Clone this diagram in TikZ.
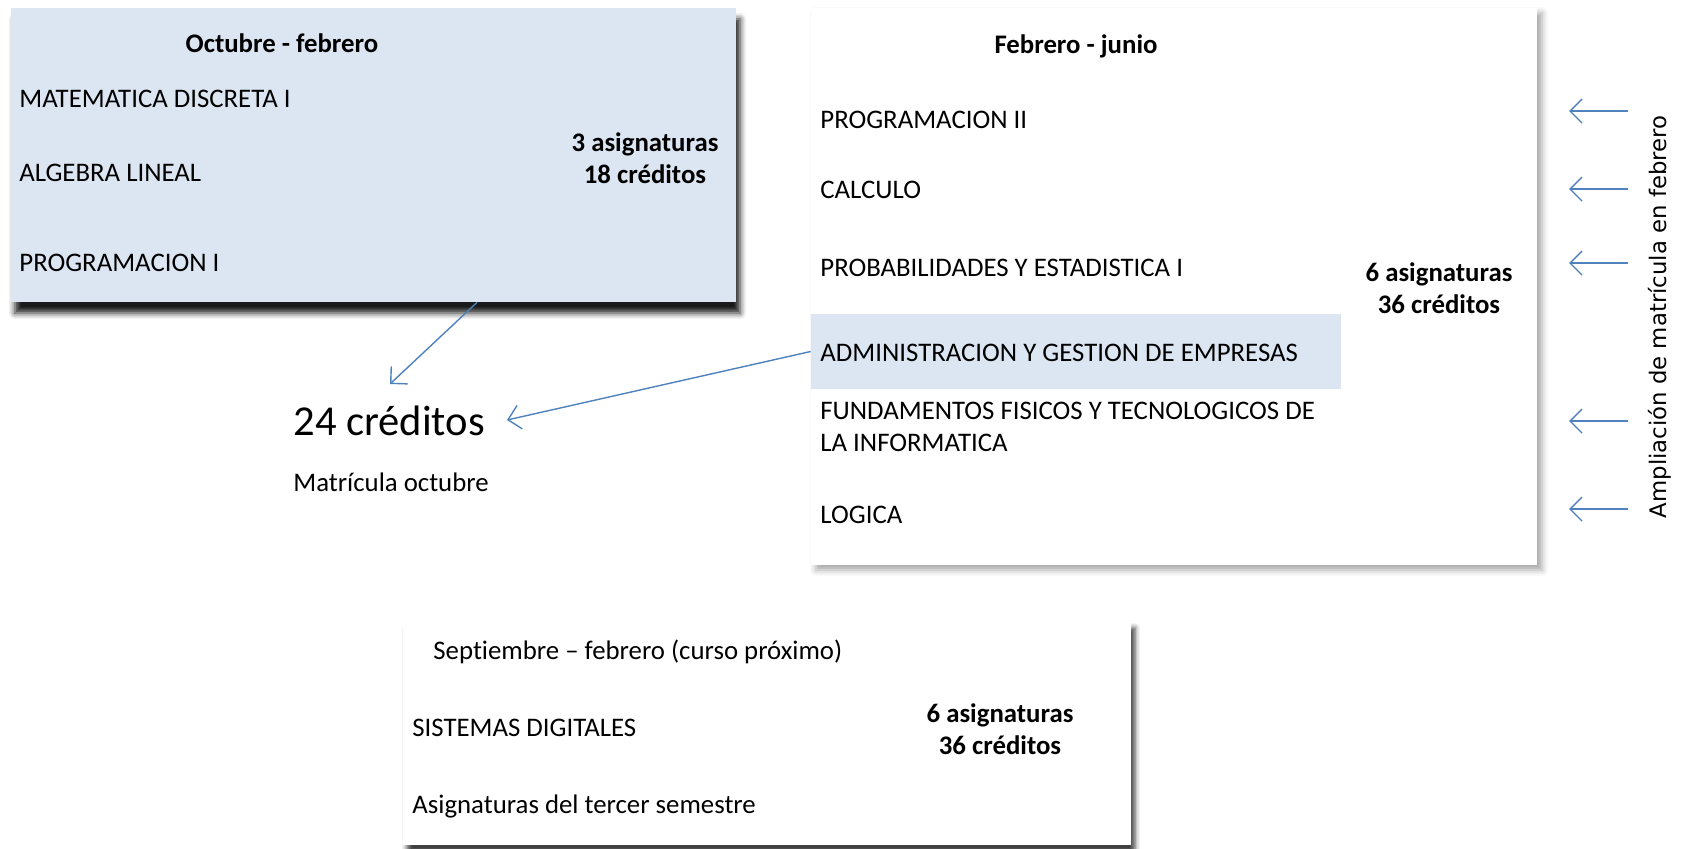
\documentclass[tikz,border=0pt]{standalone}
\usepackage{fontspec}
\setmainfont{Carlito}[Ligatures=NoCommon]
\newfontfamily\sidefont{DejaVu Sans}
\usetikzlibrary{arrows.meta,shadows.blur}
\definecolor{boxblue}{RGB}{220,230,242}
\definecolor{arrowblue}{RGB}{79,129,189}

\begin{document}
\begin{tikzpicture}[x=0.5pt, y=-0.5pt,
  font=\fontsize{13.4}{16}\selectfont,
  txt/.style={inner sep=0pt, anchor=west, text height=8.8pt, text depth=0pt},
  total/.style={inner sep=0pt, align=center, font=\fontsize{13.4}{16}\selectfont\bfseries},
  link/.style={arrowblue, line width=0.7pt, -{Straight Barb[length=6pt,width=12pt]}}]

  \useasboundingbox (0,0) rectangle (1681,848);

  %Boxes
  \node (oct) at (373.5,155) [fill=boxblue, minimum width=362.5pt, minimum height=147pt,
    blur shadow={shadow xshift=2pt, shadow yshift=-5.5pt, shadow opacity=90, shadow blur radius=3pt}] {};
  \node (feb) at (1174,286.5) [fill=white, minimum width=363pt, minimum height=278.5pt,
    blur shadow={shadow xshift=2.5pt, shadow yshift=-2.5pt, shadow opacity=35, shadow blur radius=3pt}] {};
  \node (sep) at (767,732.5) [fill=white, minimum width=364pt, minimum height=112.5pt,
    blur shadow={shadow xshift=2pt, shadow yshift=-4pt, shadow opacity=75, shadow blur radius=2.5pt}] {};
  \node (adm) at (1076,351.5) [fill=boxblue, minimum width=265pt, minimum height=37.5pt] {};

  %Octubre - febrero
  \node (t1) at (282,43) [inner sep=0pt, font=\fontsize{13.4}{16}\selectfont\bfseries] {Octubre - febrero};
  \node (a1) at (19,99) [txt] {MATEMATICA DISCRETA I};
  \node (a2) at (19,173) [txt] {ALGEBRA LINEAL};
  \node (a3) at (19,263) [txt] {PROGRAMACION I};
  \node (s1) at (645,158) [total] {3 asignaturas\\18 créditos};

  %Febrero - junio
  \node (t2) at (1076,46) [inner sep=0pt, font=\fontsize{13.4}{16}\selectfont\bfseries] {Febrero - junio};
  \node (b1) at (820,120) [txt] {PROGRAMACION II};
  \node (b2) at (820,190) [txt] {CALCULO};
  \node (b3) at (820,268) [txt] {PROBABILIDADES Y ESTADISTICA I};
  \node (b4) at (820,353) [txt] {ADMINISTRACION Y GESTION DE EMPRESAS};
  \node (b5) at (820,451) [inner sep=0pt, anchor=base west, align=left]
    {FUNDAMENTOS FISICOS Y TECNOLOGICOS DE\\LA INFORMATICA};
  \node (b6) at (820,515) [txt] {LOGICA};
  \node (s2) at (1439,288) [total] {6 asignaturas\\36 créditos};

  %Septiembre - febrero
  \node (t3) at (433,651) [txt] {Septiembre – febrero (curso próximo)};
  \node (c1) at (412,728) [txt] {SISTEMAS DIGITALES};
  \node (c2) at (412,805) [txt] {Asignaturas del tercer semestre};
  \node (s3) at (1000,729) [total] {6 asignaturas\\36 créditos};

  %Matricula octubre
  \node (cred) at (293,421) [inner sep=0pt, anchor=west, font=\fontsize{21.3}{26}\selectfont] {24 créditos};
  \node (mat) at (293,483) [txt] {Matrícula octubre};

  \coordinate (e1) at (390,384);
  \coordinate (e2) at (507,420);
  \draw[link] ([xshift=51.75pt]oct.south) -- (e1);
  \draw[link] (adm.west) -- (e2);

  %Ampliacion
  \node (amp) at (1660,317) [rotate=90, inner sep=0pt, font=\sidefont\fontsize{11.4}{14}\selectfont]
    {Ampliación de matrícula en febrero};
  \foreach \y [count=\i] in {111,189,263,421,509} {
    \coordinate (p\i) at (1628,\y);
    \coordinate (q\i) at (1569,\y);
    \draw[link] (p\i) -- (q\i);
  }
\end{tikzpicture}
\end{document}
